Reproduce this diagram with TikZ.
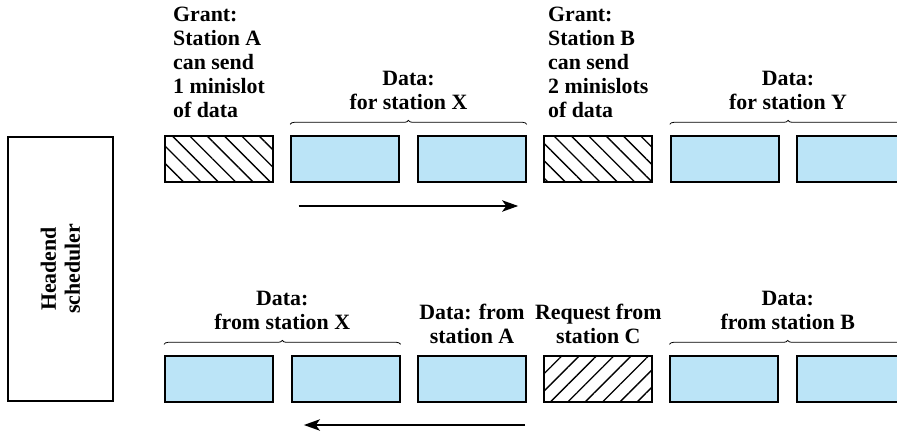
\documentclass[tikz,border=0pt]{standalone}
\usepackage{fontspec}
\setmainfont{Liberation Serif}
\usetikzlibrary{positioning,patterns.meta,decorations.pathreplacing,arrows.meta}

\definecolor{slotblue}{RGB}{187,228,247}

\tikzset{
  slot/.style={draw, line width=1.5pt, minimum width=81pt, minimum height=34.5pt, inner sep=0pt},
  dataslot/.style={slot, fill=slotblue},
  grantslot/.style={slot, pattern={Lines[angle=-45,distance=9.2pt,line width=1pt]}},
  reqslot/.style={slot, pattern={Lines[angle=45,distance=9.2pt,line width=1pt]}},
  lbl/.style={font=\fontsize{16.4}{18}\selectfont\bfseries, inner sep=0pt},
  grp/.style={decorate, decoration={brace, amplitude=3pt}, line width=0.6pt},
  flow/.style={line width=1.5pt, -{Stealth[length=12pt,width=8.5pt,inset=3pt]}}
}

\begin{document}
\begin{tikzpicture}[x=0.75pt, y=-0.75pt, node distance=12.4pt]
        % Fix the page size
        \useasboundingbox (0,0) rectangle (897,432);

        % Headend scheduler box
        \node[draw, line width=1.5pt, minimum width=78.75pt, minimum height=198pt] (head) at (60.5,269) {};
        \node[lbl, align=center, rotate=90] (headtxt) at (head.center) {Headend\\scheduler};

        % Downstream row (top)
        \node[grantslot] (g1) at (219,159) {};
        \node[dataslot, right=of g1] (d1) {};
        \node[dataslot, right=of d1] (d2) {};
        \node[grantslot, right=of d2] (g2) {};
        \node[dataslot, right=of g2] (d3) {};
        \node[dataslot, right=of d3] (d4) {};

        % Upstream row (bottom)
        \node[dataslot] (u1) at (219,379) {};
        \node[dataslot, right=of u1] (u2) {};
        \node[dataslot, right=of u2] (u3) {};
        \node[reqslot, right=of u3] (r1) {};
        \node[dataslot, right=of r1] (u4) {};
        \node[dataslot, right=of u4] (u5) {};

        % Labels of the top row
        \node[lbl, align=left, above=13pt of g1] (grantA) {Grant:\\Station A\\can send\\1 minislot\\of data};
        \node[lbl, align=left, above=13pt of g2] (grantB) {Grant:\\Station B\\can send\\2 minislots\\of data};
        \draw[grp] ([yshift=8pt]d1.north west) -- ([yshift=8pt]d2.north east)
            node[lbl, align=center, midway, above=10.5pt] (forX) {Data:\\for station X};
        \draw[grp] ([yshift=8pt]d3.north west) -- ([yshift=8pt]d4.north east)
            node[lbl, align=center, midway, above=10.5pt] (forY) {Data:\\for station Y};

        % Labels of the bottom row
        \draw[grp] ([yshift=8pt]u1.north west) -- ([yshift=8pt]u2.north east)
            node[lbl, align=center, midway, above=11pt] (fromX) {Data:\\from station X};
        \node[lbl, align=center, above=8.5pt of u3] (fromA) {Data: from\\station A};
        \node[lbl, align=center, above=8.5pt of r1] (reqC) {Request from\\station C};
        \draw[grp] ([yshift=8pt]u4.north west) -- ([yshift=8pt]u5.north east)
            node[lbl, align=center, midway, above=11pt] (fromB) {Data:\\from station B};

        % Direction arrows
        \coordinate (down1) at ([xshift=6.4pt,yshift=-17.25pt]d1.south west);
        \coordinate (down2) at ([xshift=-6.4pt,yshift=-17.25pt]d2.south east);
        \draw[flow] (down1) -- (down2);
        \coordinate (up1) at ([xshift=-1.5pt,yshift=-16.5pt]u3.south east);
        \coordinate (up2) at ([xshift=10pt,yshift=-16.5pt]u2.south west);
        \draw[flow] (up1) -- (up2);
\end{tikzpicture}
\end{document}
